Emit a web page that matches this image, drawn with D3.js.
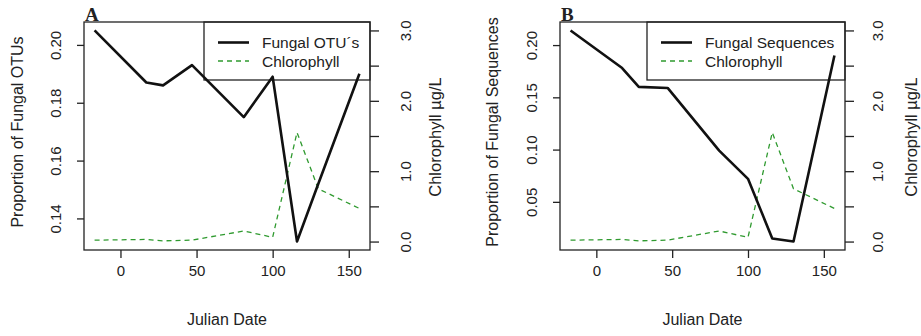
<!DOCTYPE html>
<html>
<head>
<meta charset="utf-8">
<script src="https://cdn.jsdelivr.net/npm/d3@7"></script>
<style>
  body { margin: 0; background: #fff; }
  svg text { font-family: "Liberation Sans", Arial, sans-serif; fill: #222; }
</style>
</head>
<body>
<svg width="921" height="336"></svg>
<script>
// sampling dates (Julian day)
var julianDates = [-17, 17, 28, 47, 81, 100, 116, 130, 157];
var chlorophyll = [0.02, 0.03, 0.01, 0.02, 0.15, 0.06, 1.55, 0.75, 0.47];
var fungalOTUs = [0.205, 0.187, 0.186, 0.193, 0.175, 0.189, 0.132, 0.152, 0.190];
var fungalSeqs = [0.214, 0.178, 0.160, 0.159, 0.099, 0.072, 0.015, 0.012, 0.190];

var xTicks = [0, 50, 100, 150];
var otuTicks = [0.14, 0.16, 0.18, 0.20];
var seqTicks = [0.05, 0.10, 0.15, 0.20];
var chlTicks = [0, 0.5, 1, 1.5, 2, 2.5, 3];
var chlRange = [0, 3];

var green = "#2f9a2f";

function padded(ext) {
  var p = (ext[1] - ext[0]) * 0.04;
  return [ext[0] - p, ext[1] + p];
}

function drawPanel(cfg) {
  var svg = d3.select("svg");
  var g = svg.append("g").attr("class", "panel-" + cfg.letter);
  var top = 22, bottom = 250;

  var x = d3.scaleLinear().domain(padded(d3.extent(julianDates))).range([cfg.left, cfg.right]);
  var y = d3.scaleLinear().domain(padded(d3.extent(cfg.values))).range([bottom, top]);
  var y2 = d3.scaleLinear().domain(padded(chlRange)).range([bottom, top]);

  // bottom axis
  var xa = g.append("g").attr("transform", "translate(0," + bottom + ")")
    .call(d3.axisBottom(x).tickValues(xTicks).tickSizeOuter(0).tickSize(8).tickPadding(7));
  xa.select(".domain").remove();
  xa.selectAll("line").attr("stroke", "#222").attr("stroke-width", 1.3);
  xa.selectAll("text").attr("font-size", 15).attr("fill", "#222");

  // left axis, rotated labels
  var ya = g.append("g").attr("transform", "translate(" + cfg.left + ",0)")
    .call(d3.axisLeft(y).tickValues(cfg.ticks).tickSize(7).tickFormat(d3.format(".2f")));
  ya.select(".domain").remove();
  ya.selectAll("line").attr("stroke", "#222").attr("stroke-width", 1.3);
  ya.selectAll("text")
    .attr("font-size", 15).attr("fill", "#222")
    .attr("x", null).attr("dy", null)
    .attr("text-anchor", "middle")
    .attr("transform", "translate(" + (cfg.leftLabelX - cfg.left) + ",0) rotate(-90)");

  // right axis
  var ya2 = g.append("g").attr("transform", "translate(" + cfg.right + ",0)")
    .call(d3.axisRight(y2).tickValues(chlTicks).tickSize(9)
      .tickFormat(function(d) { return d % 1 === 0 ? d3.format(".1f")(d) : ""; }));
  ya2.select(".domain").remove();
  ya2.selectAll("line").attr("stroke", "#222").attr("stroke-width", 1.3);
  ya2.selectAll("text")
    .attr("font-size", 15).attr("fill", "#222")
    .attr("x", null).attr("dy", null)
    .attr("text-anchor", "middle")
    .attr("transform", "translate(" + (cfg.rightLabelX - cfg.right) + ",0) rotate(-90)");

  // titles
  g.append("text")
    .attr("x", (cfg.left + cfg.right) / 2).attr("y", 325)
    .attr("text-anchor", "middle").attr("font-size", 16)
    .text("Julian Date");
  g.append("text")
    .attr("transform", "translate(" + cfg.leftTitleX + "," + 132 + ") rotate(-90)")
    .attr("text-anchor", "middle").attr("font-size", 16)
    .text(cfg.yTitle);
  g.append("text")
    .attr("transform", "translate(" + cfg.rightTitleX + "," + 137 + ") rotate(-90)")
    .attr("text-anchor", "middle").attr("font-size", 16.5)
    .text("Chlorophyll µg/L");

  // panel letter
  g.append("text")
    .attr("x", cfg.left + 1).attr("y", 21)
    .attr("font-family", "Liberation Serif, Times New Roman, serif")
    .attr("font-weight", "bold").attr("font-size", 19)
    .style("font-family", "'Liberation Serif', 'Times New Roman', serif")
    .text(cfg.letter);

  // legend box
  var lg = g.append("g");
  lg.append("rect")
    .attr("x", cfg.legendLeft).attr("y", top)
    .attr("width", cfg.right - cfg.legendLeft).attr("height", 58)
    .attr("fill", "none").attr("stroke", "#222").attr("stroke-width", 1.3);
  var items = [
    { label: cfg.seriesName, color: "#111", width: 2.6, dash: null },
    { label: "Chlorophyll", color: green, width: 1.3, dash: "5,4" }
  ];
  items.forEach(function(it, i) {
    var ly = 42.5 + i * 18.5;
    lg.append("line")
      .attr("x1", cfg.legendLeft + 14).attr("x2", cfg.legendLeft + 45)
      .attr("y1", ly).attr("y2", ly)
      .attr("stroke", it.color).attr("stroke-width", it.width)
      .attr("stroke-dasharray", it.dash);
    lg.append("text")
      .attr("x", cfg.legendLeft + 58).attr("y", ly + 5.5)
      .attr("font-size", 15.5)
      .text(it.label);
  });

  // plot box
  g.append("rect")
    .attr("x", cfg.left).attr("y", top)
    .attr("width", cfg.right - cfg.left).attr("height", bottom - top)
    .attr("fill", "none").attr("stroke", "#222").attr("stroke-width", 1.3);

  // series
  var idx = d3.range(julianDates.length);
  g.append("path")
    .attr("d", d3.line().x(function(i) { return x(julianDates[i]); }).y(function(i) { return y2(chlorophyll[i]); })(idx))
    .attr("fill", "none").attr("stroke", green).attr("stroke-width", 1.3)
    .attr("stroke-dasharray", "5,4");
  g.append("path")
    .attr("d", d3.line().x(function(i) { return x(julianDates[i]); }).y(function(i) { return y(cfg.values[i]); })(idx))
    .attr("fill", "none").attr("stroke", "#111").attr("stroke-width", 2.6)
    .attr("stroke-linejoin", "round");
}

drawPanel({
  letter: "A", values: fungalOTUs, ticks: otuTicks,
  yTitle: "Proportion of Fungal OTUs", seriesName: "Fungal OTU\u00b4s",
  left: 84, right: 370, legendLeft: 204,
  leftLabelX: 61, rightLabelX: 411, leftTitleX: 23, rightTitleX: 441
});
drawPanel({
  letter: "B", values: fungalSeqs, ticks: seqTicks,
  yTitle: "Proportion of Fungal Sequences", seriesName: "Fungal Sequences",
  left: 560, right: 845, legendLeft: 647,
  leftLabelX: 537, rightLabelX: 883, leftTitleX: 498, rightTitleX: 917
});
</script>
</body>
</html>
